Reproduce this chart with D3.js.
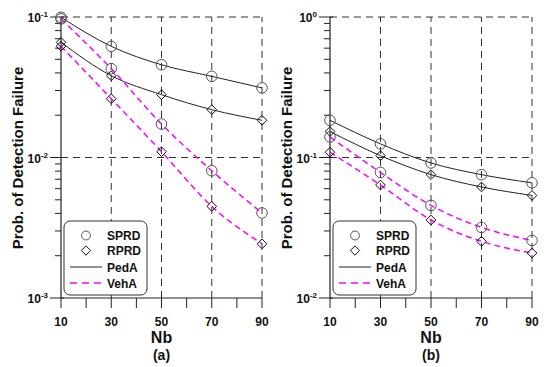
<!DOCTYPE html>
<html>
<head>
<meta charset="utf-8">
<script src="https://cdn.jsdelivr.net/npm/d3@7"></script>
<style>
  body { margin: 0; background: #fff; }
  text { font-family: Arial, "Liberation Sans", sans-serif; font-weight: bold; fill: #111; }
</style>
</head>
<body>
<div class="container"></div>
<script>
const nb = [10, 30, 50, 70, 90]

// panel (a)
const aSprdPed = [0.0995, 0.0618, 0.0457, 0.0378, 0.0313]
const aRprdPed = [0.066, 0.0382, 0.028, 0.0219, 0.0184]
const aSprdVeh = [0.097, 0.0429, 0.0173, 0.00805, 0.00403]
const aRprdVeh = [0.062, 0.0262, 0.011, 0.00449, 0.00243]

// panel (b)
const bSprdPed = [0.184, 0.125, 0.0914, 0.0755, 0.066]
const bRprdPed = [0.153, 0.103, 0.0755, 0.0617, 0.0537]
const bSprdVeh = [0.14, 0.0783, 0.0456, 0.0318, 0.0257]
const bRprdVeh = [0.109, 0.0637, 0.0359, 0.0253, 0.0209]

const legendNames = ["SPRD", "RPRD", "PedA", "VehA"]
const xTickLabels = ["10", "30", "50", "70", "90"]

const svg = d3.select(".container")
              .append("svg")
              .attr("width", 550)
              .attr("height", 367)

const magenta = "#ff00ff"

const drawPanel = (opt) => {
    const x = d3.scaleLinear().domain([10, 90]).range([opt.x0, opt.x1])
    const y = d3.scaleLog().domain(opt.yDomain).range([298, 17])
    const g = svg.append("g")

    const decades = opt.decades

    // dashed grid
    g.selectAll(".hgrid")
     .data(decades.slice(1))
     .enter()
     .append("line")
     .attr("x1", opt.x0).attr("x2", opt.x1)
     .attr("y1", d => y(d)).attr("y2", d => y(d))
     .attr("stroke", "#333").attr("stroke-width", 1)
     .attr("stroke-dasharray", "7,5")
    g.selectAll(".vgrid")
     .data(nb.slice(1))
     .enter()
     .append("line")
     .attr("x1", d => x(d)).attr("x2", d => x(d))
     .attr("y1", 298).attr("y2", 17)
     .attr("stroke", "#333").attr("stroke-width", 1)
     .attr("stroke-dasharray", "7,5")

    // y axis, minor ticks
    const minor = []
    for (let i = 0; i < decades.length - 1; i++) {
        for (let k = 2; k <= 9; k++) minor.push(decades[i] * k)
    }
    g.selectAll(".ymin")
     .data(minor)
     .enter()
     .append("line")
     .attr("x1", opt.x0 - 6).attr("x2", opt.x0)
     .attr("y1", d => y(d)).attr("y2", d => y(d))
     .attr("stroke", "#222")
    g.selectAll(".ymaj")
     .data(decades)
     .enter()
     .append("line")
     .attr("x1", opt.x0 - 11).attr("x2", opt.x0 + 3)
     .attr("y1", d => y(d)).attr("y2", d => y(d))
     .attr("stroke", "#222")
    g.append("line")
     .attr("x1", opt.x0).attr("x2", opt.x0)
     .attr("y1", 17).attr("y2", 298)
     .attr("stroke", "#222").attr("stroke-width", 1.2)

    const yl = g.selectAll(".ylab")
     .data(decades)
     .enter()
     .append("text")
     .attr("x", opt.x0 - 13)
     .attr("y", d => y(d) + 5)
     .attr("text-anchor", "end")
     .style("font-size", "12px")
    yl.append("tspan").text("10")
    yl.append("tspan")
      .attr("dy", -5)
      .style("font-size", "8px")
      .text(d => Math.round(Math.log10(d)))

    // x axis
    g.append("line")
     .attr("x1", opt.x0).attr("x2", opt.x1)
     .attr("y1", 298).attr("y2", 298)
     .attr("stroke", "#222").attr("stroke-width", 1.2)
    g.selectAll(".xt")
     .data(d3.range(10, 91, 10))
     .enter()
     .append("line")
     .attr("x1", d => x(d)).attr("x2", d => x(d))
     .attr("y1", 298).attr("y2", 308)
     .attr("stroke", "#222")
    g.selectAll(".xl")
     .data(nb)
     .enter()
     .append("text")
     .attr("x", d => x(d))
     .attr("y", 326)
     .attr("text-anchor", "middle")
     .style("font-size", "12px")
     .text((d, i) => xTickLabels[i])

    g.append("text")
     .attr("x", (opt.x0 + opt.x1) / 2)
     .attr("y", 343)
     .attr("text-anchor", "middle")
     .style("font-size", "16px")
     .text("Nb")
    g.append("text")
     .attr("x", (opt.x0 + opt.x1) / 2)
     .attr("y", 360)
     .attr("text-anchor", "middle")
     .style("font-size", "14px")
     .text(opt.label)

    g.append("text")
     .attr("transform", `translate(${opt.x0 - 38},158) rotate(-90)`)
     .attr("text-anchor", "middle")
     .style("font-size", "15px")
     .text("Prob. of Detection Failure")

    // series
    const line = d3.line()
                   .x((d, i) => x(nb[i]))
                   .y(d => y(d))
                   .curve(d3.curveMonotoneX)

    const series = [
        { v: opt.sprdPed, shape: "circle", dash: null },
        { v: opt.rprdPed, shape: "diamond", dash: null },
        { v: opt.sprdVeh, shape: "circle", dash: "6,4" },
        { v: opt.rprdVeh, shape: "diamond", dash: "6,4" }
    ]
    series.forEach(s => {
        g.append("path")
         .attr("d", line(s.v))
         .attr("fill", "none")
         .attr("stroke", s.dash ? magenta : "#222")
         .attr("stroke-width", s.dash ? 1.5 : 1)
         .attr("stroke-dasharray", s.dash)
    })
    series.forEach(s => {
        const sym = s.shape === "circle"
            ? d3.symbol().type(d3.symbolCircle).size(88)
            : d3.symbol().type(d3.symbolDiamond2).size(60)
        g.selectAll(null)
         .data(s.v)
         .enter()
         .append("path")
         .attr("d", sym)
         .attr("transform", (d, i) => `translate(${x(nb[i])},${y(d)})`)
         .attr("fill", "none")
         .attr("stroke", s.shape === "circle" ? "#555" : "#111")
         .attr("stroke-width", 1)
    })

    // legend
    const lx = opt.legendX
    const leg = g.append("g")
    leg.append("rect")
       .attr("x", lx).attr("y", 221)
       .attr("width", 83).attr("height", 74)
       .attr("rx", 6)
       .attr("fill", "#fff")
       .attr("stroke", "#333")
    const rows = [235.5, 250.5, 267, 283]
    leg.append("path")
       .attr("d", d3.symbol().type(d3.symbolCircle).size(62))
       .attr("transform", `translate(${lx + 22},${rows[0]})`)
       .attr("fill", "none").attr("stroke", "#555")
    leg.append("path")
       .attr("d", d3.symbol().type(d3.symbolDiamond2).size(55))
       .attr("transform", `translate(${lx + 22},${rows[1]})`)
       .attr("fill", "none").attr("stroke", "#111")
    leg.append("line")
       .attr("x1", lx + 6).attr("x2", lx + 38)
       .attr("y1", rows[2]).attr("y2", rows[2])
       .attr("stroke", "#222")
    leg.append("line")
       .attr("x1", lx + 6).attr("x2", lx + 38)
       .attr("y1", rows[3]).attr("y2", rows[3])
       .attr("stroke", magenta).attr("stroke-width", 1.5)
       .attr("stroke-dasharray", "7,5")
    leg.selectAll(".lt")
       .data(legendNames)
       .enter()
       .append("text")
       .attr("x", lx + 43)
       .attr("y", (d, i) => rows[i] + 4.5)
       .style("font-size", "12px")
       .text(d => d)
}

drawPanel({
    x0: 61, x1: 262, yDomain: [1e-3, 1e-1], decades: [1e-3, 1e-2, 1e-1],
    sprdPed: aSprdPed, rprdPed: aRprdPed, sprdVeh: aSprdVeh, rprdVeh: aRprdVeh,
    legendX: 64, label: "(a)"
})
drawPanel({
    x0: 330, x1: 532, yDomain: [1e-2, 1], decades: [1e-2, 1e-1, 1],
    sprdPed: bSprdPed, rprdPed: bRprdPed, sprdVeh: bSprdVeh, rprdVeh: bRprdVeh,
    legendX: 333, label: "(b)"
})
</script>
</body>
</html>
